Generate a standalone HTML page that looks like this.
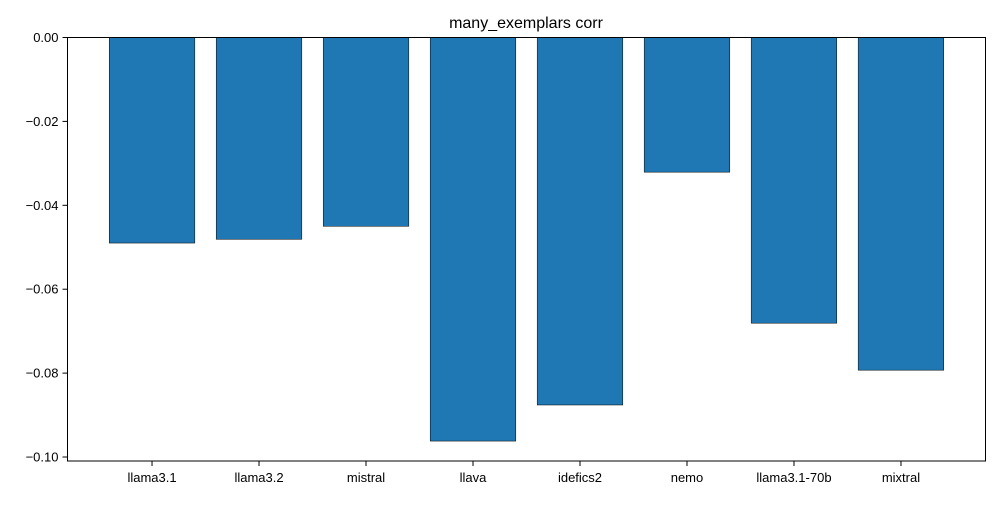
<!DOCTYPE html>
<html><head><meta charset="utf-8">
<style>
html,body{margin:0;padding:0;background:#fff;}
svg text{font-family:"Liberation Sans","DejaVu Sans",sans-serif;fill:#000;}
</style></head>
<body>
<svg id="chart" width="1000" height="500" viewBox="0 0 1000 500" xmlns="http://www.w3.org/2000/svg">
<rect width="1000" height="500" fill="#fff"/>
<text x="526" y="28" font-size="16" text-anchor="middle">many_exemplars corr</text>
<g id="bars"></g>
<g id="xticks"></g>
<g id="yticks"></g>
<rect x="67.5" y="37.5" width="918" height="423.5" fill="none" stroke="#000" stroke-width="1"/>
</svg>
<script>
const categories = ["llama3.1","llama3.2","mistral","llava","idefics2","nemo","llama3.1-70b","mixtral"];
const values = [-0.0490,-0.0481,-0.0450,-0.0962,-0.0876,-0.0321,-0.0681,-0.0793];
const yTicks = [0,-0.02,-0.04,-0.06,-0.08,-0.10];
const yTickLabels = ["0.00","\u22120.02","\u22120.04","\u22120.06","\u22120.08","\u22120.10"];

const L=67.5,R=985.5,T=37.5,B=461;
const yMax=0, yMin=-0.10095;
const n=categories.length;
const xMin=-0.4-0.05*(n-1+0.8), xMax=(n-1)+0.4+0.05*(n-1+0.8);
const xs=v=>L+(v-xMin)/(xMax-xMin)*(R-L);
const ys=v=>T+(yMax-v)/(yMax-yMin)*(B-T);
const NS="http://www.w3.org/2000/svg";
const bars=document.getElementById('bars'), xt=document.getElementById('xticks'), yt=document.getElementById('yticks');
function mk(tag,attrs){const e=document.createElementNS(NS,tag);for(const k in attrs)e.setAttribute(k,attrs[k]);return e;}
categories.forEach((c,i)=>{
  const x0=xs(i-0.4), x1=xs(i+0.4), y0=ys(0), y1=ys(values[i]);
  const r=mk('rect',{x:x0,y:Math.min(y0,y1),width:x1-x0,height:Math.abs(y1-y0),fill:'#1f77b4',stroke:'#000','stroke-width':0.5});
  
  
  bars.appendChild(r);
  const tk=mk('line',{x1:xs(i),x2:xs(i),y1:B,y2:B+5,stroke:'#000','stroke-width':1});
  
  
  xt.appendChild(tk);
  const t=mk('text',{x:xs(i),y:B+21,'font-size':13,'text-anchor':'middle'});
  t.textContent=c;
  
  
  xt.appendChild(t);
});
yTicks.forEach((v,i)=>{
  const y=ys(v);
  const tk=mk('line',{x1:L-5,x2:L,y1:y,y2:y,stroke:'#000','stroke-width':1});
  
  
  yt.appendChild(tk);
  const t=mk('text',{x:L-9,y:y+4.5,'font-size':13,'text-anchor':'end'});
  t.textContent=yTickLabels[i];
  
  
  yt.appendChild(t);
});
</script>
</body></html>
